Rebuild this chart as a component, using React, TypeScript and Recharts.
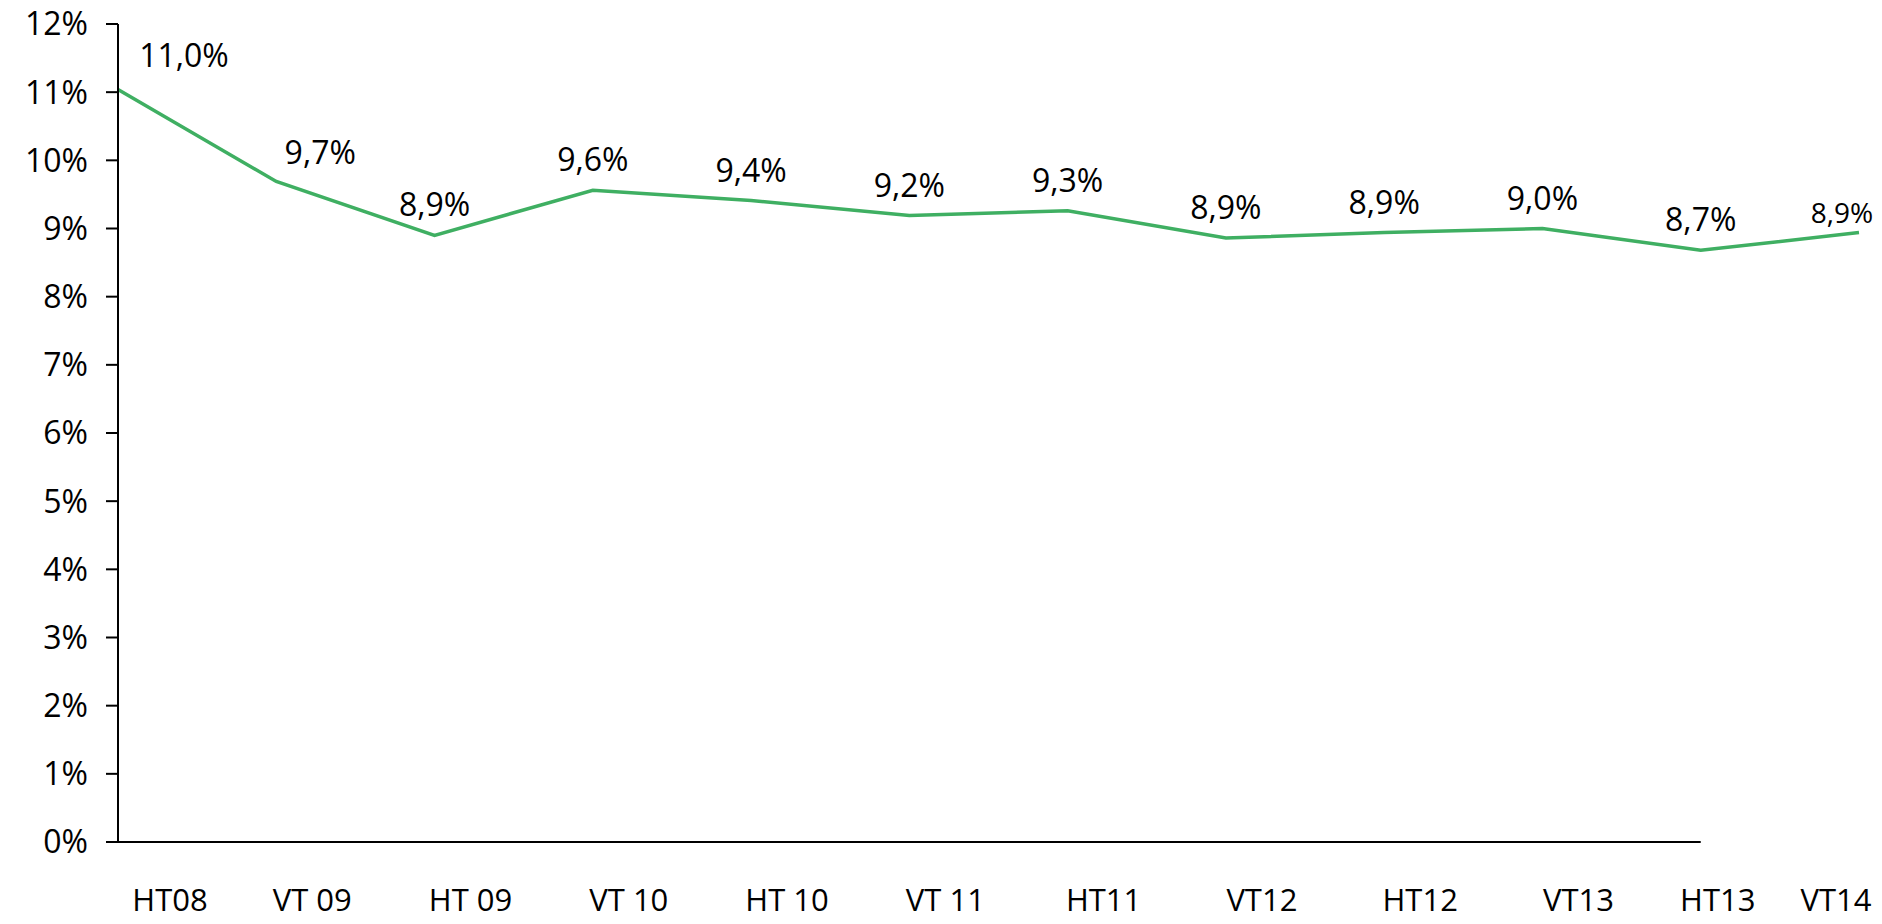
import React from 'react';
import { LineChart, Line, XAxis, YAxis, ReferenceLine, LabelList } from 'recharts';

const categories = ['HT08', 'VT 09', 'HT 09', 'VT 10', 'HT 10', 'VT 11', 'HT11', 'VT12', 'HT12', 'VT13', 'HT13', 'VT14'];
const rates = [11.04, 9.69, 8.9, 9.56, 9.41, 9.19, 9.26, 8.86, 8.94, 9.0, 8.68, 8.94];
const yTicks = [0, 1, 2, 3, 4, 5, 6, 7, 8, 9, 10, 11, 12];

const data = categories.map((period, i) => ({ period, value: rates[i] }));

const FONT = '"Open Sans", "Noto Sans", sans-serif';
const GREEN = '#3FAF62';

const fmt = (v: number) => v.toFixed(1).replace('.', ',') + '%';

const XTick = (props: any) => {
  const { x, y, payload, index } = props;
  const last = categories.length - 1;
  let dx = 36;
  if (index === 0) dx = 52;
  if (index === last - 1) dx = 17;
  if (index === last) dx = -23;
  return (
    <text x={x + dx} y={y + 61} textAnchor="middle" fill="#000" fontSize={31} fontFamily={FONT}>
      {payload.value}
    </text>
  );
};

const PointLabel = (props: any) => {
  const { x, y, value, index } = props;
  const last = categories.length - 1;
  let dx = 0;
  let dy = -19;
  let size = 32;
  if (index === 0) { dx = 66; dy = -22; }
  if (index === 1) { dx = 44; dy = -17; }
  if (index === last) { dx = -17; dy = -10; size = 28; }
  return (
    <text x={x + dx} y={y + dy} textAnchor="middle" fill="#000" fontSize={size} fontFamily={FONT}>
      {fmt(Number(value))}
    </text>
  );
};

export default function App() {
  return (
    <div style={{ position: 'absolute', left: 0, top: 0, width: 1882, height: 924, background: '#fff', overflow: 'hidden' }}>
      <LineChart width={1882} height={924} data={data} margin={{ top: 24, right: 23, bottom: 22, left: 0 }}>
        <XAxis
          dataKey="period"
          axisLine={false}
          tickLine={false}
          height={60}
          interval={0}
          tick={<XTick />}
        />
        <YAxis
          type="number"
          domain={[0, 12]}
          ticks={yTicks}
          interval={0}
          width={118}
          tickFormatter={(v: number) => `${v}%`}
          axisLine={{ stroke: '#000', strokeWidth: 2 }}
          tickLine={{ stroke: '#000', strokeWidth: 2 }}
          tickSize={12}
          tickMargin={18}
          tick={{ fill: '#000', fontSize: 32, fontFamily: FONT }}
        />
        <ReferenceLine
          segment={[{ x: categories[0], y: 0 }, { x: categories[categories.length - 2], y: 0 }]}
          stroke="#000"
          strokeWidth={2}
        />
        <Line
          type="linear"
          dataKey="value"
          stroke={GREEN}
          strokeWidth={3.5}
          dot={false}
          activeDot={false}
          isAnimationActive={false}
        >
          <LabelList dataKey="value" content={<PointLabel />} />
        </Line>
      </LineChart>
    </div>
  );
}
